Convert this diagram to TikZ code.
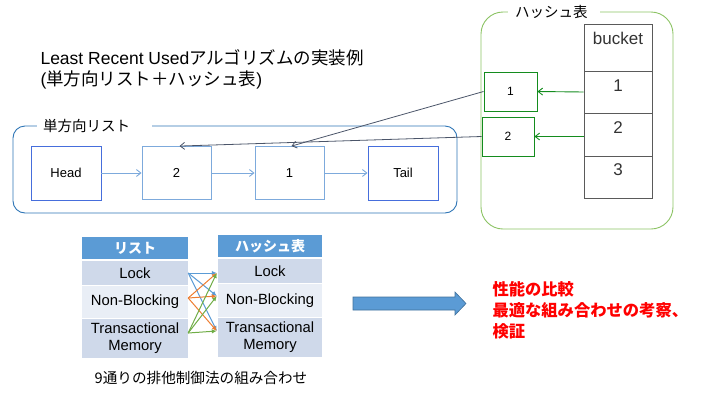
\documentclass[tikz,border=0pt]{standalone}
\usepackage{fontspec}
\setmainfont{Liberation Sans}
\newfontfamily\jpfont{Noto Sans CJK JP}
\newcommand{\jp}[1]{{\jpfont #1}}
\usetikzlibrary{arrows.meta}
\definecolor{listBlue}{RGB}{46,117,182}
\definecolor{nodeBlue}{RGB}{70,110,220}
\definecolor{lightBlue}{RGB}{125,170,220}
\definecolor{hashGreen}{RGB}{140,195,100}
\definecolor{boxGreen}{RGB}{20,140,30}
\definecolor{cellGray}{RGB}{90,90,90}
\definecolor{linkGray}{RGB}{75,85,105}
\definecolor{headBlue}{RGB}{91,155,213}
\definecolor{rowDark}{RGB}{207,217,234}
\definecolor{rowLight}{RGB}{233,238,246}
\definecolor{mixBlue}{RGB}{91,155,213}
\definecolor{mixOrange}{RGB}{237,125,49}
\definecolor{mixGreen}{RGB}{112,173,71}
\definecolor{blockLine}{RGB}{65,113,156}

\begin{document}
\begin{tikzpicture}[x=1pt,y=-1pt]
\tikzstyle{every node}=[font=\fontsize{13}{15}\selectfont, text=black]
\tikzstyle{endnode}=[draw=nodeBlue, line width=0.9pt, minimum width=70pt, minimum height=54pt, inner sep=0pt]
\tikzstyle{midnode}=[draw=lightBlue, line width=0.9pt, minimum width=69pt, minimum height=53pt, inner sep=0pt]
\tikzstyle{listarrow}=[draw=lightBlue, line width=0.9pt, -{Straight Barb[length=4.5pt,width=7pt]}]
\tikzstyle{cell}=[draw=cellGray, line width=1pt, minimum width=68pt, inner sep=0pt, fill=white]
\tikzstyle{celltext}=[font=\fontsize{17}{19}\selectfont, text=black!80]
\tikzstyle{gbox}=[draw=boxGreen, line width=0.9pt, inner sep=0pt, font=\fontsize{12}{14}\selectfont]
\tikzstyle{garrow}=[draw=boxGreen, line width=0.9pt, -{Straight Barb[length=4.5pt,width=7pt]}]
\tikzstyle{linkarrow}=[draw=linkGray, line width=0.8pt, -{Straight Barb[length=4.5pt,width=7pt]}]
\tikzstyle{grouplabel}=[fill=white, anchor=west, align=left, inner xsep=6pt, font=\jpfont\fontsize{14.5}{16}\selectfont]
\tikzstyle{thead}=[fill=headBlue, text=white, inner sep=0pt, minimum height=22pt, font=\fontsize{14}{16}\selectfont\jpfont\bfseries]
\tikzstyle{trowdark}=[fill=rowDark, inner sep=0pt, align=center, font=\fontsize{14.8}{17}\selectfont]
\tikzstyle{trowlight}=[fill=rowLight, inner sep=0pt, align=center, font=\fontsize{14.8}{17}\selectfont]

  \useasboundingbox (0,0) rectangle (720,405);

  % title
  \node[align=left, anchor=west, font=\fontsize{17.5}{21}\selectfont] (title) at (37,69.5)
    {Least Recent Used\jp{アルゴリズムの実装例}\\(\jp{単方向リスト＋ハッシュ表})};

  % singly linked list
  \draw[listBlue, line width=0.9pt, rounded corners=12pt] (13,126) rectangle (457,213);
  \node[grouplabel, text width=103pt] (listlabel) at (37,126) {単方向リスト};

  \node[endnode] (head) at (66,173) {Head};
  \node[midnode] (two) at (176.5,173) {2};
  \node[midnode] (one) at (289.5,173) {1};
  \node[endnode] (tail) at (403,173) {Tail};

  \draw[listarrow] (head) -- (two);
  \draw[listarrow] (two) -- (one);
  \draw[listarrow] (one) -- (tail);

  % hash table
  \draw[hashGreen, line width=0.9pt, rounded corners=22pt] (481,12) rectangle (673,229);
  \node[grouplabel, text width=78pt, inner xsep=7pt] (hashlabel) at (508,12) {ハッシュ表};

  \node[cell, minimum height=47pt] (bhead) at (618,47.5) {};
  \node[cell, minimum height=42pt] (b1) at (618,92) {};
  \node[cell, minimum height=43pt] (b2) at (618,134.5) {};
  \node[cell, minimum height=42pt] (b3) at (618,177) {};
  \node[celltext] (bheadtxt) at ([yshift=9.5pt]bhead.center) {bucket};
  \node[celltext] (b1txt) at ([yshift=6pt]b1.center) {1};
  \node[celltext] (b2txt) at ([yshift=6.5pt]b2.center) {2};
  \node[celltext] (b3txt) at ([yshift=7pt]b3.center) {3};

  \node[gbox, minimum width=53pt, minimum height=39pt] (g1) at (510.5,91.5) {1};
  \node[gbox, minimum width=52pt, minimum height=39pt] (g2) at (508,136.5) {2};

  \draw[garrow] (b1.west) -- (g1.east);
  \draw[garrow] (b2.west |- g2.east) -- (g2.east);
  \draw[linkarrow] (g1.west) -- ([xshift=2pt]one.north);
  \draw[linkarrow] (g2.west) -- ([xshift=3pt]two.north);

  % combinations
  \node[thead, minimum width=106pt] (lhead) at (135,248) {リスト};
  \node[trowdark, minimum width=106pt, minimum height=24pt] (lLock) at (135,273) {Lock};
  \node[trowlight, minimum width=106pt, minimum height=32pt] (lNB) at (135,302) {Non-Blocking};
  \node[trowdark, minimum width=106pt, minimum height=39pt] (lTM) at (135,338.5) {Transactional\\Memory};

  \node[thead, minimum width=104pt] (rhead) at (270,246) {ハッシュ表};
  \node[trowdark, minimum width=104pt, minimum height=24pt] (rLock) at (270,271) {Lock};
  \node[trowlight, minimum width=104pt, minimum height=33pt] (rNB) at (270,300.5) {Non-Blocking};
  \node[trowdark, minimum width=104pt, minimum height=39pt] (rTM) at (270,337.5) {Transactional\\Memory};

  \coordinate (src1) at (lLock.east);
  \coordinate (src2) at ([yshift=4pt]lNB.east);
  \coordinate (src3) at ([yshift=5.5pt]lTM.east);
  \coordinate (dst1) at ([xshift=-1pt,yshift=-2pt]rLock.west);
  \coordinate (dst2) at ([xshift=-1pt,yshift=4.5pt]rNB.west);
  \coordinate (dst3) at ([xshift=-1pt,yshift=6.5pt]rTM.west);
  \foreach \s/\col in {1/mixBlue,2/mixOrange,3/mixGreen}
    \foreach \d in {1,2,3}
      \draw[draw=\col, line width=1pt, -{Latex[length=5pt,width=4.5pt]}] (src\s) -- (dst\d);

  \node[font=\jpfont\fontsize{14.6}{16}\selectfont] (caption) at (201,378) {9通りの排他制御法の組み合わせ};

  % block arrow
  \draw[fill=headBlue, draw=blockLine, line width=0.6pt] (353,297) -- (455,297) -- (455,292)
    -- (466,303.5) -- (455,315) -- (455,310) -- (353,310) -- cycle;

  \node[anchor=west, align=left, text=red, font=\fontsize{16.3}{21}\selectfont\jpfont\bfseries] (result) at (489,310)
    {性能の比較\\最適な組み合わせの考察、\\検証};

\end{tikzpicture}
\end{document}
